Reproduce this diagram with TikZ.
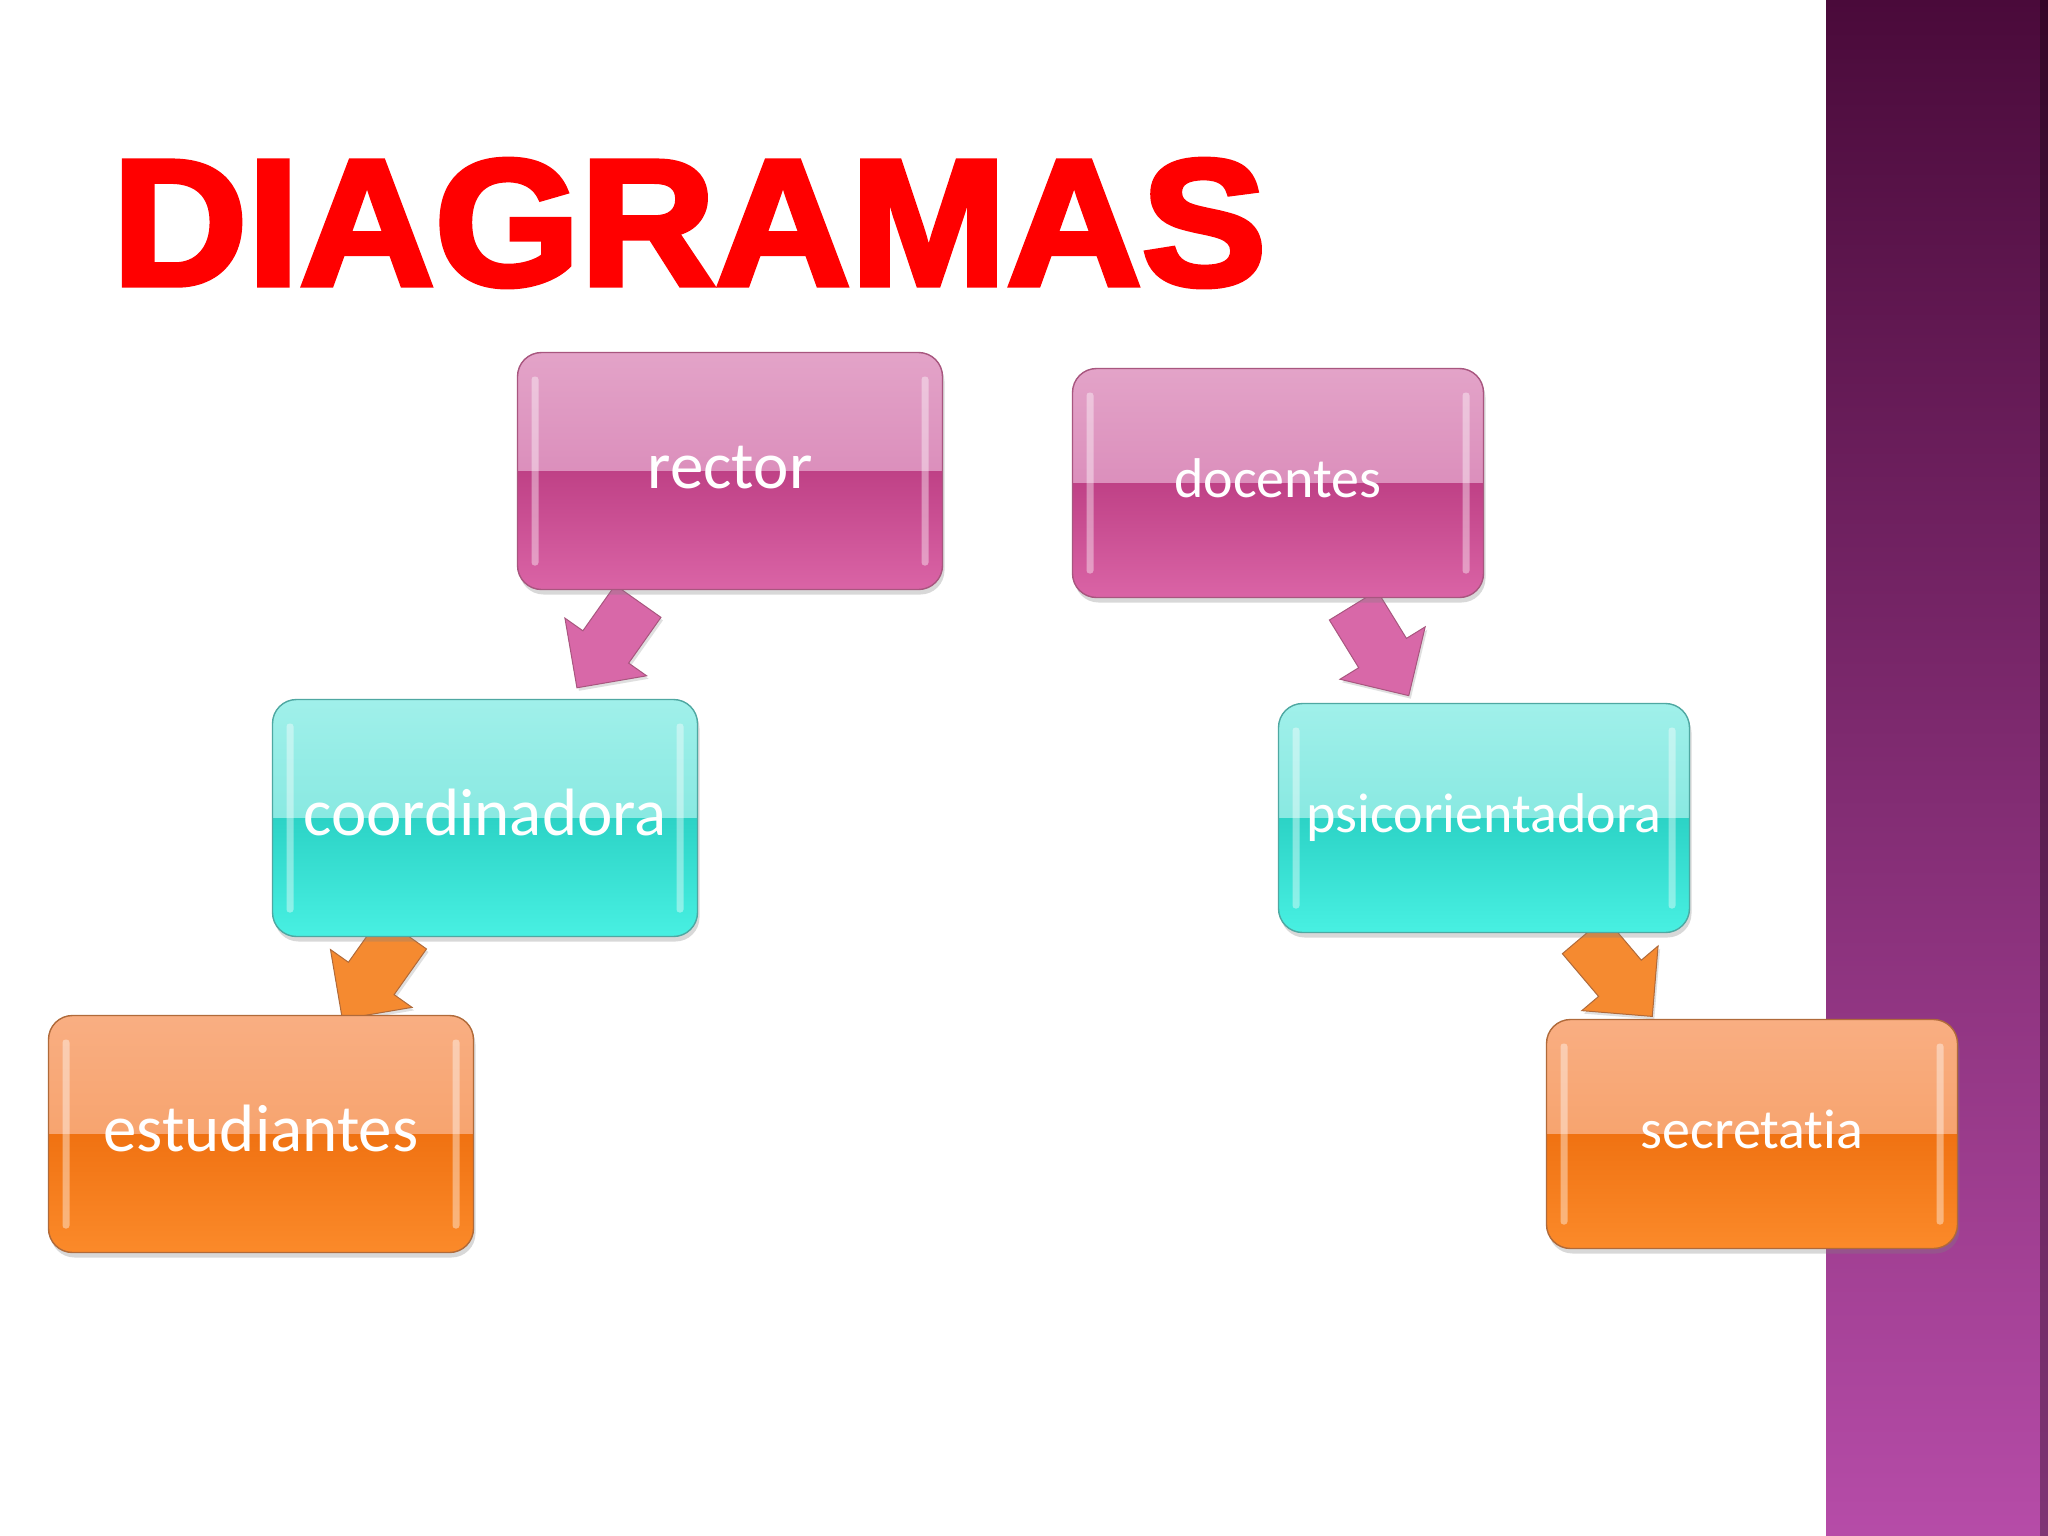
\documentclass[tikz,border=0pt]{standalone}
\usepackage{fontspec}
\usetikzlibrary{calc,shadows}
\newfontfamily\boxfont{Carlito}[Ligatures=NoCommon]
\newfontfamily\titlefont{Liberation Sans Bold}[FakeBold=3]

\definecolor{titlered}{HTML}{FF0000}
\definecolor{pinkT}{HTML}{E3A3C8}
\definecolor{pinkM}{HTML}{D47BB0}
\definecolor{pinkD}{HTML}{BF4186}
\definecolor{pinkB}{HTML}{DA64A6}
\definecolor{pinkE}{HTML}{A8567F}
\definecolor{pinkA}{HTML}{D868A8}
\definecolor{cyanT}{HTML}{A0F0EA}
\definecolor{cyanM}{HTML}{72E2D9}
\definecolor{cyanD}{HTML}{2CD3C6}
\definecolor{cyanB}{HTML}{48F0E2}
\definecolor{cyanE}{HTML}{4FA8A2}
\definecolor{orangeT}{HTML}{F9AE82}
\definecolor{orangeM}{HTML}{F59A5C}
\definecolor{orangeD}{HTML}{F07212}
\definecolor{orangeB}{HTML}{FB8A2A}
\definecolor{orangeE}{HTML}{B06A3A}
\definecolor{orangeA}{HTML}{F58A30}
\definecolor{barT}{HTML}{4A0A3A}
\definecolor{barM}{HTML}{8C3479}
\definecolor{barB}{HTML}{B64CA8}

\pgfdeclarelayer{back}
\pgfsetlayers{back,main}

% chunky block arrow centred between two boxes
\newcommand\chunkarrow[3]{%
  \coordinate (mid) at ($(#1.center)!.5!(#2.center)$);
  \coordinate (tail) at ($(mid)!-53pt!(#2.center)$);
  \coordinate (neck) at ($(mid)!3pt!(#2.center)$);
  \coordinate (tip) at ($(mid)!53pt!(#2.center)$);
  \draw[chunk=#3] ($(tail)!28pt!90:(#2.center)$) -- ($(neck)!28pt!90:(#2.center)$)
    -- ($(neck)!50pt!90:(#2.center)$) -- (tip)
    -- ($(neck)!50pt!-90:(#2.center)$) -- ($(neck)!28pt!-90:(#2.center)$)
    -- ($(tail)!28pt!-90:(#2.center)$) -- cycle;
}

\begin{document}
\begin{tikzpicture}[x=1pt,y=-1pt,
   glossbox/.style={rounded corners=24pt,text=white,line width=1.4pt,draw=#1E,
     drop shadow={shadow xshift=2pt,shadow yshift=-5pt,opacity=.3},
     path picture={
       \shade[sharp corners,top color=#1T,bottom color=#1M] (path picture bounding box.north west) rectangle (path picture bounding box.east);
       \shade[sharp corners,top color=#1D,bottom color=#1B] (path picture bounding box.west) rectangle (path picture bounding box.south east);
       \fill[white,opacity=.4,rounded corners=3pt] ($(path picture bounding box.north west)+(14pt,-24pt)$) rectangle ($(path picture bounding box.south west)+(21pt,24pt)$);
       \fill[white,opacity=.4,rounded corners=3pt] ($(path picture bounding box.north east)+(-14pt,-24pt)$) rectangle ($(path picture bounding box.south east)+(-21pt,24pt)$);
     }},
   bigbox/.style={glossbox=#1,minimum width=425pt,minimum height=237pt,
     text height=40pt,text depth=6pt,font=\boxfont\fontsize{67}{80}\selectfont},
   smallbox/.style={glossbox=#1,minimum width=411pt,minimum height=229pt,
     text height=34pt,text depth=6pt,font=\boxfont\fontsize{56}{67}\selectfont},
   chunk/.style={fill=#1A,draw=#1E,line width=1pt,
     drop shadow={shadow xshift=2pt,shadow yshift=-3pt,opacity=.25}}]
  \useasboundingbox (0,0) rectangle (2048,1536);

  % ---- purple side bar ----
  \shade[top color=barT,middle color=barM,bottom color=barB] (1826,0) rectangle (2048,1536);
  \fill[black,opacity=.3] (2040,0) rectangle (2048,1536);

  % ---- title ----
  \node[anchor=base west,inner sep=0pt,text=titlered,
    font=\titlefont\fontsize{180}{180}\selectfont] (title) at (112,285)
    {\scalebox{1.04}[1]{DIAGRAMAS}};

  % ---- left branch ----
  \node[bigbox=pink] (rector) at (730,471) {rector};
  \node[bigbox=cyan] (coordinadora) at (485,818) {coordinadora};
  \node[bigbox=orange] (estudiantes) at (261,1134) {estudiantes};

  % ---- right branch ----
  \node[smallbox=pink] (docentes) at (1278,483) {docentes};
  \node[smallbox=cyan] (psicorientadora) at (1484,818) {psicorientadora};
  \node[smallbox=orange] (secretatia) at (1752,1134) {secretatia};

  % ---- arrows, behind the boxes ----
  \begin{pgfonlayer}{back}
    \fill[white] (0,0) rectangle (2048,1536);
    \chunkarrow{rector}{coordinadora}{pink}
    \chunkarrow{coordinadora}{estudiantes}{orange}
    \chunkarrow{docentes}{psicorientadora}{pink}
    \chunkarrow{psicorientadora}{secretatia}{orange}
  \end{pgfonlayer}
\end{tikzpicture}
\end{document}
